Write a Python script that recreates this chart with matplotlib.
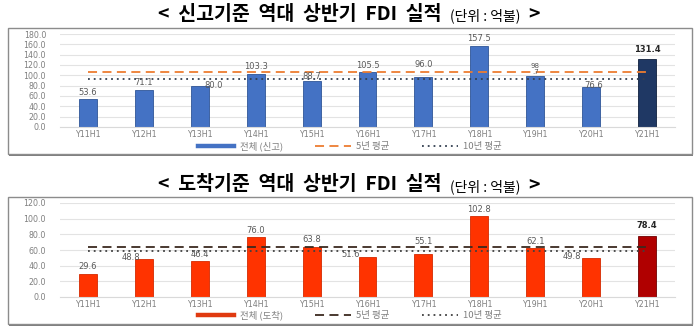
import matplotlib
matplotlib.use("Agg")
import matplotlib.pyplot as plt
from matplotlib.lines import Line2D
from matplotlib.patches import Rectangle
import numpy as np

plt.rcParams['font.family'] = ['Noto Sans CJK KR', 'DejaVu Sans']

categories = ["Y11H1", "Y12H1", "Y13H1", "Y14H1", "Y15H1", "Y16H1",
              "Y17H1", "Y18H1", "Y19H1", "Y20H1", "Y21H1"]

report_values = [53.6, 71.1, 80.0, 103.3, 88.7, 105.5, 96.0, 157.5, 98.7, 76.6, 131.4]
report_labels = ["53.6", "71.1", "80.0", "103.3", "88.7", "105.5", "96.0", "157.5", "98\n.7", "76.6", "131.4"]
report_avg5 = 106.7
report_avg10 = 93.0

arrival_values = [29.6, 48.8, 46.4, 76.0, 63.8, 51.6, 55.1, 102.8, 62.1, 49.8, 78.4]
arrival_labels = ["29.6", "48.8", "46.4", "76.0", "63.8", "51.6", "55.1", "102.8", "62.1", "49.8", "78.4"]
arrival_avg5 = 64.3
arrival_avg10 = 58.8

report_yticks = [0, 20, 40, 60, 80, 100, 120, 140, 160, 180]
arrival_yticks = [0, 20, 40, 60, 80, 100, 120]

legend_report = ["전체 (신고)", "5년 평균", "10년 평균"]
legend_arrival = ["전체 (도착)", "5년 평균", "10년 평균"]
title_report = "<  신고기준  역대  상반기  FDI  실적"
title_arrival = "<  도착기준  역대  상반기  FDI  실적"
title_unit = "(단위 : 억불)"

W, H = 700, 334
fig = plt.figure(figsize=(7.0, 3.34), dpi=100)
fig.patch.set_facecolor("white")


def fx(px):
    return px / W


def fy(py):
    return 1 - py / H


def draw_title(main, ycenter):
    r = fig.canvas.get_renderer()
    t1 = fig.text(0, fy(ycenter), main, fontsize=14, fontweight='bold',
                  va='center', ha='left', color='black')
    t2 = fig.text(0, fy(ycenter) - 0.004, title_unit, fontsize=10,
                  va='center', ha='left', color='black')
    t3 = fig.text(0, fy(ycenter), ">", fontsize=14, fontweight='bold',
                  va='center', ha='left', color='black')
    w1 = t1.get_window_extent(r).width
    w2 = t2.get_window_extent(r).width
    w3 = t3.get_window_extent(r).width
    gap = 8
    total = w1 + gap + w2 + gap + w3
    x0 = 349 - total / 2
    t1.set_x(fx(x0))
    t2.set_x(fx(x0 + w1 + gap))
    t3.set_x(fx(x0 + w1 + gap + w2 + gap))


def panel(y0, y1):
    fig.patches.append(Rectangle((fx(9), fy(y1 + 2)), fx(684), (y1 - y0) / H,
                                 transform=fig.transFigure, facecolor='#7f7f7f',
                                 edgecolor='none', zorder=0))
    fig.patches.append(Rectangle((fx(8), fy(y1)), fx(684), (y1 - y0) / H,
                                 transform=fig.transFigure, facecolor='white',
                                 edgecolor='#8c8c8c', linewidth=1.0, zorder=0.5))


def draw_chart(ax, values, labels, avg5, avg10, yticks, colors, edgecolors,
               avg5_color, avg10_color, offsets, leg_texts, leg_y, bar_leg_color):
    ax.set_zorder(3)
    x = np.arange(len(categories))
    ax.bar(x, values, width=0.32, color=colors, edgecolor=edgecolors,
           linewidth=0.6, zorder=2)
    ax.plot(x, [avg5] * len(x), color=avg5_color, linewidth=1.3,
            dashes=(5, 3), zorder=3)
    ax.plot(x, [avg10] * len(x), color=avg10_color, linewidth=1.3,
            dashes=(1, 2.2), zorder=3)
    ax.set_xlim(-0.5, len(x) - 0.5)
    ax.set_ylim(yticks[0], yticks[-1])
    ax.set_yticks(yticks)
    ax.set_yticklabels([f"{t:.1f}" for t in yticks])
    ax.set_xticks(x)
    ax.set_xticklabels(categories)
    ax.tick_params(axis='both', length=0, labelsize=5.7, labelcolor='#7f7f7f')
    ax.tick_params(axis='y', pad=10)
    ax.tick_params(axis='x', pad=2.5)
    for lab in ax.get_xticklabels() + ax.get_yticklabels():
        lab.set_family(['DejaVu Sans'])
    ax.grid(axis='y', color='#e3e3e3', linewidth=0.8, zorder=0)
    ax.set_axisbelow(True)
    for s in ax.spines.values():
        s.set_visible(False)
    ax.spines['bottom'].set_visible(True)
    ax.spines['bottom'].set_color('#d9d9d9')
    ax.patch.set_alpha(0)
    n = len(x)
    for i, (v, lab) in enumerate(zip(values, labels)):
        dx, dy = offsets[i]
        last = (i == n - 1)
        ax.annotate(lab, (x[i], v), xytext=(dx, dy), textcoords='offset points',
                    ha='center', va='bottom', fontsize=6 if '\n' not in lab else 5,
                    family=['DejaVu Sans'], linespacing=0.9,
                    color='#262626' if last else '#595959',
                    fontweight='bold' if last else 'normal', zorder=5)
    handles = [Line2D([], [], color=bar_leg_color, linewidth=3.2),
               Line2D([], [], color=avg5_color, linewidth=1.3, dashes=(5, 3)),
               Line2D([], [], color=avg10_color, linewidth=1.3, dashes=(1, 2.2))]
    leg = fig.legend(handles, leg_texts, loc='center', bbox_to_anchor=(fx(350), fy(leg_y)),
                     ncol=3, frameon=False, fontsize=6.8, handlelength=3.8,
                     columnspacing=3.4, handletextpad=0.6, labelcolor='#7f7f7f',
                     borderpad=0.1)
    leg.set_zorder(4)


# Top panel
draw_title(title_report, 14)
panel(28, 154)
ax1 = fig.add_axes([fx(60), fy(127), fx(615), 93 / H])
blue = ['#4472c4'] * 10 + ['#1f3864']
blue_edge = ['#2f5597'] * 10 + ['#0f1f3d']
off1 = [(0, 2), (0, 2), (10, -3), (0, 2), (0, 0), (0, 2), (0, 6), (0, 2), (0, 1), (2, -2), (0, 4)]
draw_chart(ax1, report_values, report_labels, report_avg5, report_avg10,
           report_yticks, blue, blue_edge, '#ed7d31', '#333f50', off1,
           legend_report, 146.5, '#4472c4')

# Bottom panel
draw_title(title_arrival, 185)
panel(197, 324)
ax2 = fig.add_axes([fx(60), fy(297), fx(615), 94 / H])
red = ['#ff3300'] * 10 + ['#b00000']
red_edge = ['#d42a00'] * 10 + ['#700000']
off2 = [(0, 2), (-9, -2), (0, 1), (0, 2), (0, 2), (-12, -2), (0, 6), (0, 2), (0, 2), (-14, -2), (0, 4)]
draw_chart(ax2, arrival_values, arrival_labels, arrival_avg5, arrival_avg10,
           arrival_yticks, red, red_edge, '#3b2a20', '#404040', off2,
           legend_arrival, 315.5, '#e03a10')

fig.savefig("out.png", dpi=100)
